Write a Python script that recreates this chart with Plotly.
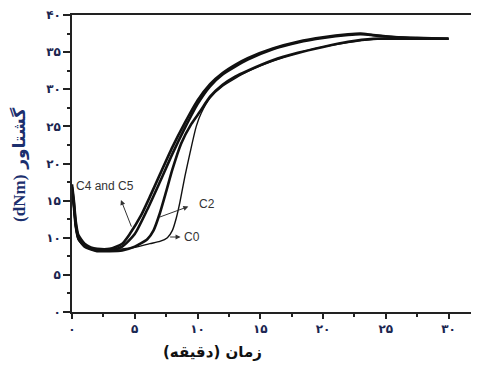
import plotly.graph_objects as go

# ---- data ----
t_c5 = [0, 0.15, 0.3, 0.5, 1, 1.5, 2, 3, 4, 4.6, 5.5, 6.2, 7, 8, 9, 10, 11, 12, 13, 14, 16, 18, 20, 22, 23, 24, 26, 28, 30]
v_c5 = [17.2, 15, 12.2, 10.4, 9.2, 8.7, 8.5, 8.5, 9.2, 10.5, 13, 15.5, 18.5, 22.2, 25.5, 28.5, 30.7, 32.2, 33.3, 34.2, 35.5, 36.4, 37.0, 37.4, 37.5, 37.3, 37.0, 36.9, 36.8]

t_c4 = [0, 0.15, 0.3, 0.5, 1, 1.5, 2, 3, 4, 5, 6, 7, 8, 9, 10, 11, 12, 14, 16, 18, 20, 22, 23, 25, 27, 30]
v_c4 = [16.8, 14.6, 11.8, 10.1, 8.9, 8.5, 8.3, 8.3, 8.8, 10.5, 13.8, 17.5, 21.3, 24.8, 28.0, 30.4, 32.0, 34.0, 35.4, 36.3, 36.9, 37.3, 37.4, 37.1, 36.9, 36.8]

t_c2 = [0, 0.15, 0.3, 0.5, 1, 2, 3, 4, 5, 6, 6.5, 7, 7.5, 8, 8.7, 9.5, 10.2, 11, 12, 13, 14, 16, 18, 20, 22, 24, 26, 28, 30]
v_c2 = [16.5, 14.2, 11.5, 9.9, 8.8, 8.2, 8.2, 8.3, 8.8, 9.8, 11.0, 13.3, 16.2, 19.2, 22.7, 25.3, 27.0, 29.0, 30.6, 31.7, 32.5, 33.9, 34.9, 35.7, 36.4, 36.8, 36.8, 36.8, 36.8]

t_c0 = [0, 0.15, 0.3, 0.5, 1, 2, 3, 4, 5, 6.2, 7, 7.6, 8.0, 8.3, 8.6, 9.0, 9.4, 9.9, 10.3, 11, 12, 14, 16, 18, 20, 22, 24, 26, 28, 30]
v_c0 = [16.2, 13.8, 11.2, 9.7, 8.8, 8.4, 8.4, 8.5, 8.7, 9.2, 9.5, 10.0, 11.0, 12.6, 14.8, 18.3, 21.4, 25.0, 26.8, 28.8, 30.4, 32.4, 33.8, 34.9, 35.7, 36.3, 36.7, 36.8, 36.8, 36.8]

x_tickvals = [0, 5, 10, 15, 20, 25, 30]
x_ticktext = ["۰", "۵", "۱۰", "۱۵", "۲۰", "۲۵", "۳۰"]
y_tickvals = [0, 5, 10, 15, 20, 25, 30, 35, 40]
y_ticktext = ["۰", "۵", "۱۰", "۱۵", "۲۰", "۲۵", "۳۰", "۳۵", "۴۰"]

fig = go.Figure()
line_col = "#111111"
for t, v, w in [(t_c0, v_c0, 1.4), (t_c2, v_c2, 2.6), (t_c4, v_c4, 2.6), (t_c5, v_c5, 2.6)]:
    fig.add_trace(go.Scatter(x=t, y=v, mode="lines",
                             line=dict(color=line_col, width=w, shape="spline", smoothing=0.6),
                             showlegend=False, hoverinfo="skip"))

tick_font = dict(family="DejaVu Sans", size=12, color="#1a2550", weight="bold")

fig.update_xaxes(range=[0, 32.43], showline=True, linecolor="#222", linewidth=1.5,
                 mirror=True, ticks="outside", ticklen=5, tickwidth=1.5, tickcolor="#222",
                 tickvals=x_tickvals, ticktext=x_ticktext, tickfont=tick_font,
                 minor=dict(dtick=2.5, tick0=0, ticks="outside", ticklen=3, tickcolor="#222"),
                 showgrid=False, zeroline=False, automargin=False)
fig.update_yaxes(range=[0, 40], showline=True, linecolor="#222", linewidth=1.5,
                 ticks="outside", ticklen=7, tickwidth=1.5, tickcolor="#222",
                 tickvals=y_tickvals, ticktext=y_ticktext, tickfont=tick_font,
                 minor=dict(dtick=2.5, tick0=0, ticks="outside", ticklen=3, tickcolor="#222"),
                 showgrid=False, zeroline=False, automargin=False)

ann_font = dict(family="Liberation Sans", size=12, color="#333")
anns = [
    dict(x=2.63, y=17.0, text="C4 and C5", showarrow=False),
    dict(x=10.75, y=14.5, text="C2", showarrow=False),
    dict(x=9.6, y=10.1, text="C0", showarrow=False),
    dict(x=3.9, y=15.1, ax=4.78, ay=11.3, showarrow=True),
    dict(x=9.27, y=14.2, ax=6.85, ay=12.7, showarrow=True),
    dict(x=8.65, y=10.1, ax=7.7, ay=10.1, showarrow=True),
]
for a in anns:
    if a.get("showarrow"):
        fig.add_annotation(x=a["x"], y=a["y"], ax=a["ax"], ay=a["ay"], axref="x", ayref="y",
                           xref="x", yref="y", text="", showarrow=True, arrowhead=2,
                           arrowsize=1, arrowwidth=1, arrowcolor="#333")
    else:
        fig.add_annotation(x=a["x"], y=a["y"], xref="x", yref="y", text=a["text"],
                           showarrow=False, font=ann_font)

fig.add_annotation(x=0.346, y=-0.135, xref="paper", yref="paper", text="<b>زمان (دقیقه)</b>",
                   xanchor="center", yanchor="middle",
                   showarrow=False, font=dict(family="DejaVu Sans", size=15, color="#111"))
fig.add_annotation(x=-0.128, y=0.495, xref="paper", yref="paper",
                   text="<b><span style='font-family:Liberation Serif'>(dNm)</span> گشتاور</b>",
                   xanchor="center", yanchor="middle",
                   textangle=-90, showarrow=False,
                   font=dict(family="DejaVu Sans", size=17, color="#1c2f6e"))

# page body has an 8px default margin, so the figure is sized/placed to compensate
fig.update_layout(width=471, height=359, margin=dict(l=64, r=0, t=7, b=55),
                  paper_bgcolor="white", plot_bgcolor="white")
fig.write_html("out.html")
